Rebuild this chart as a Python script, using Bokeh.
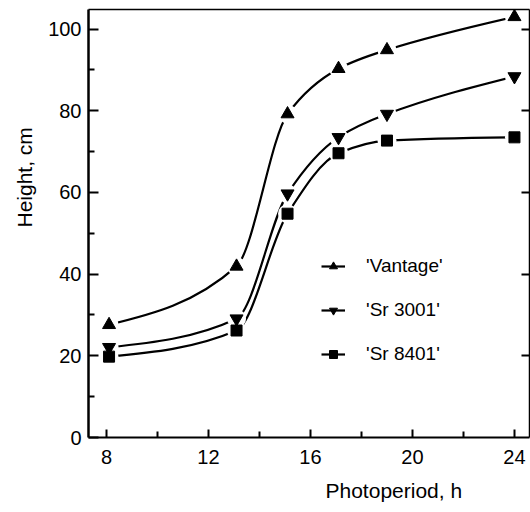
import math
import numpy as np
from bokeh.plotting import figure
from bokeh.models import Range1d, LinearAxis, FixedTicker, Legend, LegendItem, Title, ColumnDataSource
from bokeh.embed import file_html
from bokeh.resources import INLINE

# ---- data ----
photoperiod = [8.1, 13.1, 15.1, 17.1, 19.0, 24.0]
vantage = [27.6, 41.9, 79.2, 90.3, 94.9, 103.0]
sr3001 = [22.1, 29.1, 59.7, 73.5, 79.2, 88.4]
sr8401 = [19.8, 26.2, 54.8, 69.6, 72.7, 73.5]
series_names = ["'Vantage'", "'Sr 3001'", "'Sr 8401'"]
series_markers = ["triangle", "inverted_triangle", "square"]
x_major = [8, 12, 16, 20, 24]
x_minor = [10, 14, 18, 22]
y_major = [0, 20, 40, 60, 80, 100]
y_minor = [10, 30, 50, 70, 90]
right_ticks = [20, 40, 60, 80, 100]

FONT = "Liberation Sans"


def bezier_segments(xs, ys):
    """Monotone (Fritsch-Carlson) cubic through the points, as Bezier controls."""
    x = np.asarray(xs, float)
    y = np.asarray(ys, float)
    h = np.diff(x)
    d = np.diff(y) / h
    n = len(x)
    m = np.zeros(n)
    for i in range(1, n - 1):
        if d[i - 1] * d[i] <= 0:
            m[i] = 0.0
        else:
            w1 = 2 * h[i] + h[i - 1]
            w2 = h[i] + 2 * h[i - 1]
            m[i] = (w1 + w2) / (w1 / d[i - 1] + w2 / d[i])
    m0 = (3 * d[0] - m[1]) / 2
    m[0] = m0 if m0 * d[0] > 0 else 0.0
    mn = (3 * d[-1] - m[-2]) / 2
    m[-1] = mn if mn * d[-1] > 0 else 0.0
    return dict(
        x0=x[:-1], y0=y[:-1], x1=x[1:], y1=y[1:],
        cx0=x[:-1] + h / 3, cy0=y[:-1] + m[:-1] * h / 3,
        cx1=x[1:] - h / 3, cy1=y[1:] - m[1:] * h / 3,
    )


p = figure(width=530, height=512, output_backend="svg", toolbar_location=None,
           x_axis_location=None, y_axis_location=None,
           min_border_left=87, min_border_right=1, min_border_top=9, min_border_bottom=75)
p.x_range = Range1d(7.294, 24.59)
p.y_range = Range1d(0, 104.8)
p.outline_line_color = None
p.xgrid.visible = False
p.ygrid.visible = False
p.background_fill_color = "white"


def style_axis(ax, major, minor, width=2):
    ax.ticker = FixedTicker(ticks=major, minor_ticks=minor)
    ax.axis_line_width = width
    ax.axis_line_color = "black"
    ax.major_tick_line_width = 2
    ax.minor_tick_line_width = 2
    ax.major_tick_out = 0
    ax.minor_tick_out = 0
    ax.major_label_text_font = FONT
    ax.major_label_text_color = "black"
    ax.major_label_text_font_size = "20px"


left = LinearAxis()
style_axis(left, y_major, y_minor, width=2.5)
left.major_tick_in = 10
left.minor_tick_in = 6
left.major_label_standoff = 7
p.add_layout(left, "left")

bottom = LinearAxis()
style_axis(bottom, x_major, x_minor, width=2.2)
bottom.major_tick_in = 8
bottom.minor_tick_in = 6
bottom.major_label_standoff = 12
p.add_layout(bottom, "below")

# right axis: ticks only (as minor ticks so that no labels are drawn)
right = LinearAxis()
style_axis(right, [], right_ticks, width=1.5)
right.minor_tick_in = 8
right.major_tick_in = 0
right.major_label_standoff = 0
p.add_layout(right, "right")

top = LinearAxis()
style_axis(top, [], [], width=1.5)
top.major_tick_in = 0
top.minor_tick_in = 0
top.major_label_standoff = 0
p.add_layout(top, "above")

all_series = [vantage, sr3001, sr8401]
curves = []
for ys in all_series:
    curves.append(p.bezier(source=ColumnDataSource(bezier_segments(photoperiod, ys)),
                           x0="x0", y0="y0", x1="x1", y1="y1",
                           cx0="cx0", cy0="cy0", cx1="cx1", cy1="cy1",
                           line_color="black", line_width=2.2))

for ys in all_series:
    p.scatter(photoperiod, ys, marker="circle", size=19, fill_color="white", line_color=None)

items = []
for ys, mk, name, cv in zip(all_series, series_markers, series_names, curves):
    sz = 11 if mk == "square" else 13
    r = p.scatter(photoperiod, ys, marker=mk, size=sz, fill_color="black", line_color="black")
    items.append(LegendItem(label=name, renderers=[cv, r], index=0))

legend = Legend(items=items, location=(233, 72), orientation="vertical")
legend.background_fill_alpha = 0
legend.border_line_color = None
legend.padding = 0
legend.margin = 0
legend.spacing = 22
legend.glyph_height = 20
legend.glyph_width = 24
legend.label_standoff = 21
legend.label_height = 20
legend.label_text_font = FONT
legend.label_text_font_size = "19px"
legend.label_text_color = "black"
p.add_layout(legend)

xt = Title(text="Photoperiod, h", align="left", offset=237, standoff=20,
           text_font=FONT, text_font_size="21px", text_font_style="normal", text_color="black")
p.add_layout(xt, "below")
yt = Title(text="Height, cm", align="left", offset=210, standoff=20,
           text_font=FONT, text_font_size="21px", text_font_style="normal", text_color="black")
p.add_layout(yt, "left")

open("out.html", "w").write(file_html(p, INLINE))
